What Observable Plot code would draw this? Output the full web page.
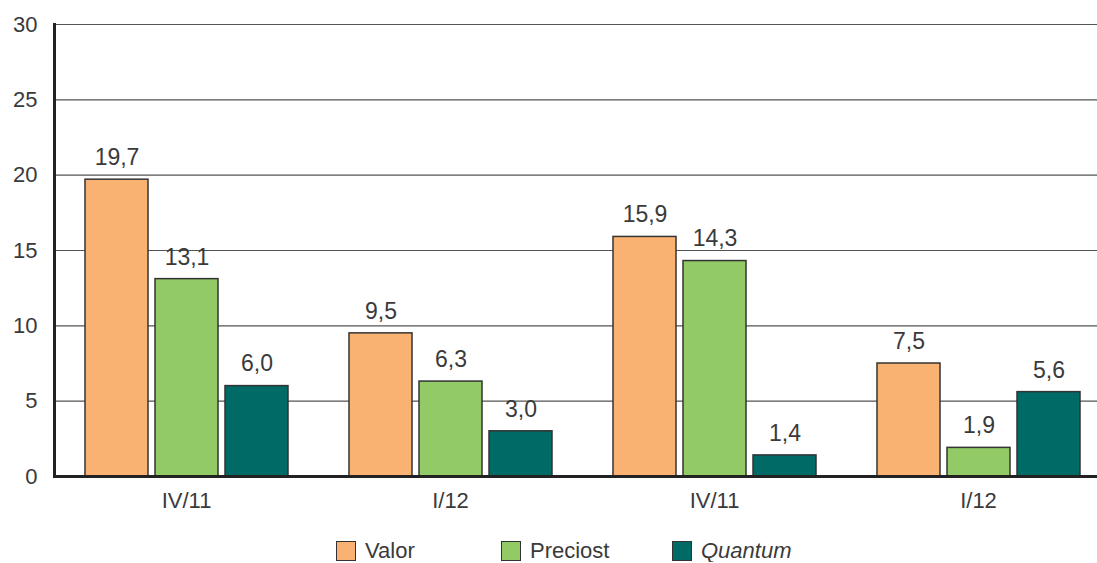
<!DOCTYPE html>
<html><head><meta charset="utf-8">
<script src="https://cdn.jsdelivr.net/npm/d3@7"></script>
<script src="https://cdn.jsdelivr.net/npm/@observablehq/plot@0.6"></script>
<style>
html,body{margin:0;padding:0;background:#fff;overflow:hidden}
body{font-family:"Liberation Sans",Arial,sans-serif;color:#3a3a3a}
#legend{display:flex;align-items:center;padding-left:336px;margin-top:10px;font-size:22px;height:22px}
.item{display:flex;align-items:center}
.sw{width:18px;height:18px;border:1.3px solid #333;margin-right:9px;box-sizing:content-box}
</style></head><body>
<div id="chart"></div>
<div id="legend"></div>
<script>
const groups = ["IV/11", "I/12", "IV/11", "I/12"];
const series = ["Valor", "Preciost", "Quantum"];
const valor = [19.7, 9.5, 15.9, 7.5];
const preciost = [13.1, 6.3, 14.3, 1.9];
const quantum = [6.0, 3.0, 1.4, 5.6];
const colors = ["#FAB273", "#92CA66", "#006A67"];
const yTicks = [0, 5, 10, 15, 20, 25, 30];

const seriesValues = [valor, preciost, quantum];
const data = [];
groups.forEach((g, gi) => {
  series.forEach((s, si) => {
    data.push({g: gi, s, v: seriesValues[si][gi]});
  });
});
const fmt = v => v.toFixed(1).replace(".", ",");

const chart = Plot.plot({
  width: 1097,
  height: 530,
  marginLeft: 54,
  marginRight: -13,
  marginTop: 24,
  marginBottom: 54,
  style: {fontFamily: '"Liberation Sans", Arial, sans-serif', fontSize: "22px", color: "#3a3a3a", background: "white", overflow: "hidden"},
  fx: {domain: [0, 1, 2, 3], padding: 0, label: null},
  x: {domain: series, paddingInner: 0.1, paddingOuter: 0.425, axis: null},
  y: {domain: [0, 30], axis: null},
  color: {domain: series, range: colors},
  marks: [
    Plot.gridY(yTicks, {stroke: "#555", strokeOpacity: 1, strokeWidth: 1.2}),
    Plot.barY(data, {fx: "g", x: "s", y: "v", fill: "s", stroke: "#333", strokeWidth: 1.5}),
    Plot.text(data, {fx: "g", x: "s", y: "v", text: d => fmt(d.v), dy: -22, fontSize: 23, fill: "#3a3a3a"}),
    Plot.axisY(yTicks, {tickSize: 0, tickPadding: 17, fontSize: 22, label: null, tickFormat: d => String(d), fill: "#3a3a3a"}),
    Plot.axisFx({anchor: "bottom", tickSize: 0, tickPadding: 16, fontSize: 22, label: null, tickFormat: i => groups[i], fill: "#3a3a3a"}),
    Plot.frame({anchor: "left", facet: "super", stroke: "#222", strokeWidth: 3}),
    Plot.frame({anchor: "bottom", facet: "super", stroke: "#222", strokeWidth: 3})
  ]
});
document.getElementById("chart").appendChild(chart);

const legend = document.getElementById("legend");
const itemWidths = [165, 171, null];
series.forEach((s, i) => {
  const item = document.createElement("div");
  item.className = "item";
  if (itemWidths[i]) item.style.width = itemWidths[i] + "px";
  const sw = document.createElement("span");
  sw.className = "sw";
  sw.style.background = colors[i];
  const label = document.createElement("span");
  label.textContent = s;
  if (s === "Quantum") label.style.fontStyle = "italic";
  item.appendChild(sw);
  item.appendChild(label);
  legend.appendChild(item);
});
</script>
</body></html>
